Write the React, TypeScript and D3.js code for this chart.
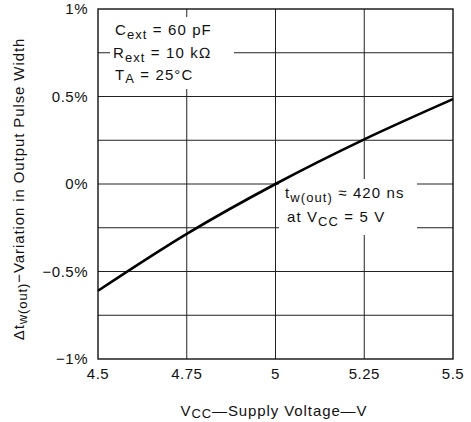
import * as d3 from "d3";

// supply voltage (V) vs. variation in output pulse width (%)
const voltages = [4.5, 4.75, 5, 5.25, 5.5];
const variation = [-0.61, -0.285, 0, 0.255, 0.485];

const xTicks = [4.5, 4.75, 5, 5.25, 5.5];
const xTickLabels = ["4.5", "4.75", "5", "5.25", "5.5"];
const yTicks = [-1, -0.5, 0, 0.5, 1];
const yTickLabels = ["\u22121%", "\u22120.5%", "0%", "0.5%", "1%"];
const xGrid = [4.75, 5, 5.25];
const yGrid = [-0.75, -0.5, -0.25, 0, 0.25, 0.5, 0.75];

const W = 471;
const H = 422;
const m = { top: 9, right: 18, bottom: 63, left: 98 };
const font = "'Liberation Sans', Arial, Helvetica, sans-serif";

const App = () => {
  const x = d3.scaleLinear().domain([4.5, 5.5]).range([m.left, W - m.right]);
  const y = d3.scaleLinear().domain([-1, 1]).range([H - m.bottom, m.top]);

  const pts = voltages.map((v, i) => [v, variation[i]] as [number, number]);
  const line = d3
    .line<[number, number]>()
    .x((d) => x(d[0]))
    .y((d) => y(d[1]))
    .curve(d3.curveMonotoneX);

  const txt = { fontFamily: font, fontSize: 15, fill: "#111", letterSpacing: 0.9 };
  const tick = { fontFamily: font, fontSize: 15, fill: "#111", letterSpacing: 0.5 };
  const note = { fontFamily: font, fontSize: 15, fill: "#111", letterSpacing: 1.1 };

  return (
    <svg
      width={W}
      height={H}
      style={{ position: "absolute", left: 0, top: 0, background: "#fff" }}
    >
      {/* grid */}
      {yGrid.map((g) => (
        <line key={"y" + g} x1={x(4.5)} x2={x(5.5)} y1={y(g)} y2={y(g)} stroke="#222" strokeWidth={1} />
      ))}
      {xGrid.map((g) => (
        <line key={"x" + g} x1={x(g)} x2={x(g)} y1={y(-1)} y2={y(1)} stroke="#222" strokeWidth={1} />
      ))}
      <rect x={x(4.5)} y={y(1)} width={x(5.5) - x(4.5)} height={y(-1) - y(1)} fill="none" stroke="#111" strokeWidth={1.4} />

      {/* annotation boxes */}
      <rect x={110} y={17} width={124} height={72} fill="#fff" />
      <rect x={279} y={179} width={138} height={56} fill="#fff" />

      <path d={line(pts) ?? ""} fill="none" stroke="#000" strokeWidth={2.6} />

      {/* y ticks */}
      {yTicks.map((t, i) => (
        <text key={"yt" + t} x={88} y={y(t) + 5} textAnchor="end" {...tick}>
          {yTickLabels[i]}
        </text>
      ))}
      {/* x ticks */}
      {xTicks.map((t, i) => (
        <text key={"xt" + t} x={x(t)} y={379} textAnchor="middle" {...tick}>
          {xTickLabels[i]}
        </text>
      ))}

      {/* x title */}
      <text x={274} y={416} textAnchor="middle" {...txt}>
        V<tspan fontSize={13} dy={2}>CC</tspan>
        <tspan dy={-2}>{"\u2014Supply Voltage\u2014V"}</tspan>
      </text>

      {/* y title */}
      <text transform="translate(24,189) rotate(-90)" textAnchor="middle" {...txt}>
        {"\u0394t"}
        <tspan fontSize={13} dy={3}>w(out)</tspan>
        <tspan dy={-3}>{"\u2212Variation in Output Pulse Width"}</tspan>
      </text>

      {/* conditions */}
      <text x={115} y={35} {...note}>
        C<tspan fontSize={13} dy={4}>ext</tspan>
        <tspan dy={-4}> = 60 pF</tspan>
      </text>
      <text x={113} y={58} {...note}>
        R<tspan fontSize={13} dy={4}>ext</tspan>
        <tspan dy={-4}> = 10 k{"\u2126"}</tspan>
      </text>
      <text x={115} y={80} {...note}>
        T<tspan fontSize={13} dy={3}>A</tspan>
        <tspan dy={-3}> = 25°C</tspan>
      </text>

      <text x={285} y={198} {...note}>
        t<tspan fontSize={13} dy={4}>w(out)</tspan>
        <tspan dy={-4}> {"\u2248"} 420 ns</tspan>
      </text>
      <text x={287} y={222} {...note}>
        at V<tspan fontSize={13} dy={4}>CC</tspan>
        <tspan dy={-4}> = 5 V</tspan>
      </text>
    </svg>
  );
};

export default App;
